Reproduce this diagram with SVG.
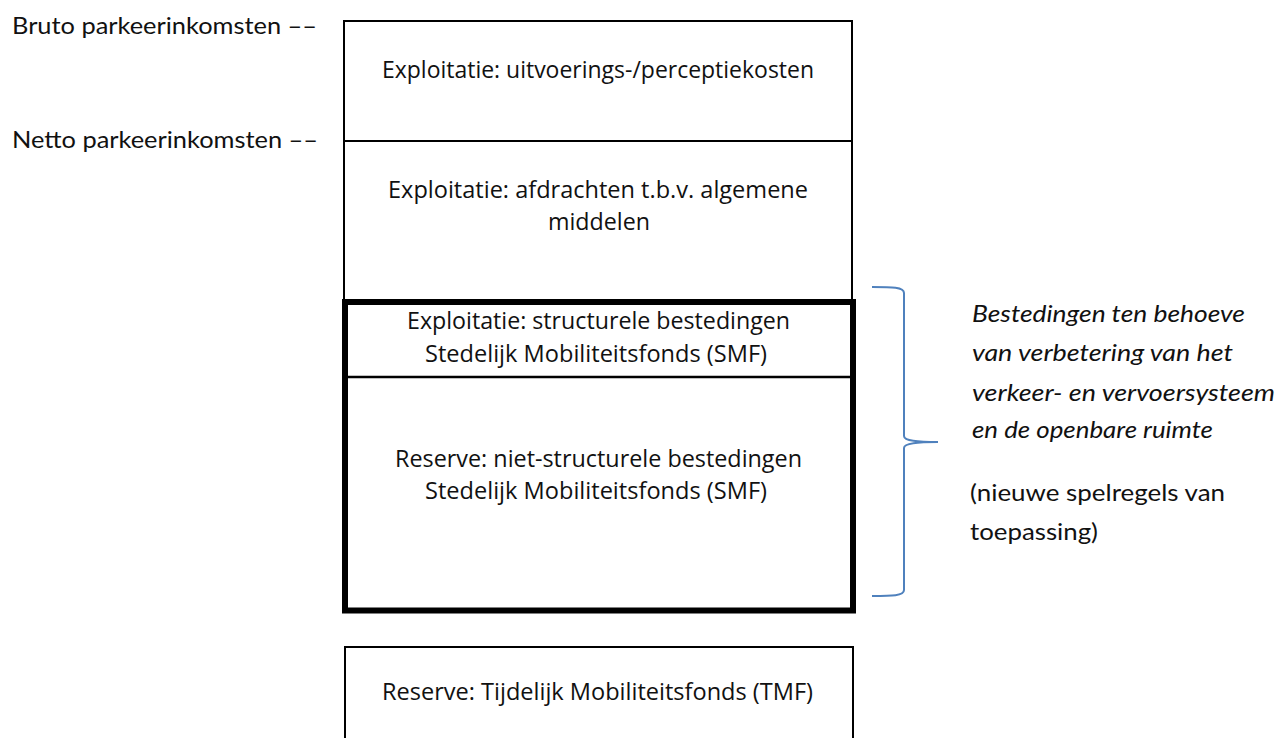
<svg xmlns="http://www.w3.org/2000/svg" width="1280" height="738" viewBox="0 0 1280 738">
<style>
.box{fill:#ffffff;stroke:#000000;stroke-width:2}
.thick{fill:none;stroke:#000000;stroke-width:6}
.div{stroke:#000000;stroke-width:2.5}
.bt{font-family:"Open Sans","Noto Sans",sans-serif;font-size:23px;fill:#111111;text-anchor:middle}
.lbl{font-family:Lato,"Liberation Sans",sans-serif;font-size:24px;fill:#111111}
.it{font-style:italic}
.brace{fill:none;stroke:#4f81bd;stroke-width:2}
</style>
<rect width="1280" height="738" fill="#ffffff"/>
<g id="label-bruto"><text class="lbl" x="12" y="34" textLength="305" lengthAdjust="spacingAndGlyphs">Bruto parkeerinkomsten ––</text></g>
<g id="label-netto"><text class="lbl" x="12" y="148" textLength="306" lengthAdjust="spacingAndGlyphs">Netto parkeerinkomsten ––</text></g>
<g id="node-uitvoering">
<rect class="box" x="344" y="21" width="508" height="120"/>
<text class="bt" x="598" y="78" textLength="432" lengthAdjust="spacingAndGlyphs">Exploitatie: uitvoerings-/perceptiekosten</text>
</g>
<g id="node-afdrachten">
<rect class="box" x="344" y="141" width="508" height="161"/>
<text class="bt" x="598" y="198" textLength="420" lengthAdjust="spacingAndGlyphs">Exploitatie: afdrachten t.b.v. algemene</text>
<text class="bt" x="599" y="230" textLength="102" lengthAdjust="spacingAndGlyphs">middelen</text>
</g>
<g id="node-smf">
<rect x="345" y="302" width="508" height="308.5" fill="#ffffff"/>
<line class="div" x1="345" y1="377" x2="853" y2="377"/>
<text class="bt" x="598.5" y="329" textLength="383" lengthAdjust="spacingAndGlyphs">Exploitatie: structurele bestedingen</text>
<text class="bt" x="596" y="362" textLength="342" lengthAdjust="spacingAndGlyphs">Stedelijk Mobiliteitsfonds (SMF)</text>
<text class="bt" x="598.5" y="467" textLength="407" lengthAdjust="spacingAndGlyphs">Reserve: niet-structurele bestedingen</text>
<text class="bt" x="596" y="499" textLength="342" lengthAdjust="spacingAndGlyphs">Stedelijk Mobiliteitsfonds (SMF)</text>
<rect class="thick" x="345" y="302" width="508" height="308.5"/>
</g>
<g id="node-tmf">
<rect class="box" x="345" y="647" width="508" height="100"/>
<text class="bt" x="597.5" y="700" textLength="431" lengthAdjust="spacingAndGlyphs">Reserve: Tijdelijk Mobiliteitsfonds (TMF)</text>
</g>
<g id="connectors">
<path class="brace" d="M872,287 C892,287 904,287 904,293 L904,436 C904,441 918,442 938,442 C918,442 904,443 904,448 L904,590 C904,596 892,596 872,596"/>
</g>
<g id="note">
<text class="lbl it" x="972" y="322" textLength="273" lengthAdjust="spacingAndGlyphs">Bestedingen ten behoeve</text>
<text class="lbl it" x="972" y="361" textLength="261" lengthAdjust="spacingAndGlyphs">van verbetering van het</text>
<text class="lbl it" x="972" y="401" textLength="303" lengthAdjust="spacingAndGlyphs">verkeer- en vervoersysteem</text>
<text class="lbl it" x="972" y="438" textLength="241" lengthAdjust="spacingAndGlyphs">en de openbare ruimte</text>
<text class="lbl" x="970" y="501" textLength="255" lengthAdjust="spacingAndGlyphs">(nieuwe spelregels van</text>
<text class="lbl" x="970" y="540" textLength="128" lengthAdjust="spacingAndGlyphs">toepassing)</text>
</g>
</svg>
